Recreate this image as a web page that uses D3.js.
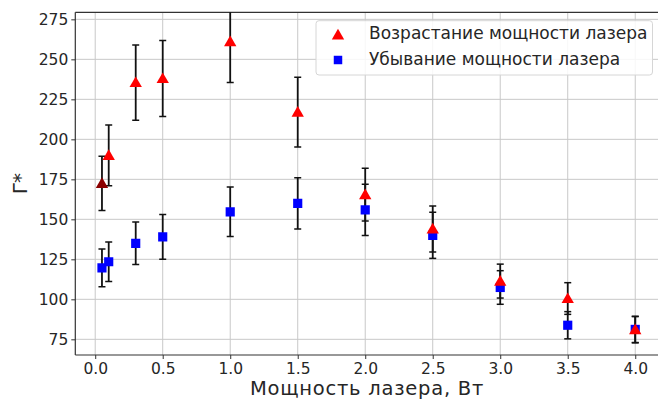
<!DOCTYPE html>
<html><head><meta charset="utf-8">
<script src="https://cdn.jsdelivr.net/npm/d3@7"></script>
<style>body{margin:0;background:#fff;} svg{display:block;font-family:"DejaVu Sans",sans-serif;}</style>
</head><body>
<svg id="c" width="658" height="400"></svg>
<script>
const powers = [0.05, 0.1, 0.3, 0.5, 1.0, 1.5, 2.0, 2.5, 3.0, 3.5, 4.0];
const incValues = [172.5, 190, 235.5, 238, 261, 217, 165.4, 144, 111.4, 100.5, 81];
const incErrors = [17, 19, 23.5, 23.8, 25.5, 21.8, 16.5, 14.4, 10.6, 9.9, 8.2];
const decValues = [119.7, 123.5, 135, 139, 154.7, 160, 155.9, 140, 107.4, 83.8, 81.2];
const decErrors = [11.8, 12.4, 13.3, 14, 15.5, 16, 16, 14.4, 10.5, 8.5, 8.2];
const xTicks = [0.0, 0.5, 1.0, 1.5, 2.0, 2.5, 3.0, 3.5, 4.0];
const yTicks = [75, 100, 125, 150, 175, 200, 225, 250, 275];
const legendLabels = ["Возрастание мощности лазера", "Убывание мощности лазера"];
const xLabel = "Мощность лазера, Вт";
const yLabel = "Γ*";

const svg = d3.select("#c");
const L = 75.3, R = 661.9, T = 12.3, B = 355;
const x = d3.scaleLinear().domain([-0.1475, 4.1975]).range([L, R]);
const y = d3.scaleLinear().domain([65.2, 279.4]).range([B, T]);

svg.append("defs").append("clipPath").attr("id", "clip")
  .append("rect").attr("x", L).attr("y", T).attr("width", R - L).attr("height", B - T);

// grid
const grid = svg.append("g");
grid.selectAll(".gx").data(xTicks).enter().append("line")
  .attr("x1", d => x(d)).attr("x2", d => x(d)).attr("y1", T).attr("y2", B)
  .attr("stroke", "#c8c8c8").attr("stroke-width", 1);
grid.selectAll(".gy").data(yTicks).enter().append("line")
  .attr("x1", L).attr("x2", R).attr("y1", d => y(d)).attr("y2", d => y(d))
  .attr("stroke", "#c8c8c8").attr("stroke-width", 1);

// axes
const xAxis = svg.append("g").attr("transform", `translate(0,${B})`)
  .call(d3.axisBottom(x).tickValues(xTicks).tickFormat(d3.format(".1f")).tickSize(4).tickSizeOuter(0));
const yAxis = svg.append("g").attr("transform", `translate(${L},0)`)
  .call(d3.axisLeft(y).tickValues(yTicks).tickSize(4).tickSizeOuter(0));
[xAxis, yAxis].forEach(a => {
  a.select(".domain").remove();
  a.selectAll("line").attr("stroke", "#333").attr("stroke-width", 1);
  a.selectAll("text").attr("fill", "#262626").style("font-size", "15.5px").style("font-family", "DejaVu Sans");
});
xAxis.selectAll("text").attr("dy", "0.95em").attr("y", 4);
yAxis.selectAll("text").attr("x", -7);

// spines
svg.append("line").attr("x1", L).attr("x2", L).attr("y1", T).attr("y2", B).attr("stroke", "#333").attr("stroke-width", 1.2);
svg.append("line").attr("x1", L).attr("x2", R).attr("y1", B).attr("y2", B).attr("stroke", "#333").attr("stroke-width", 1.2);
svg.append("line").attr("x1", L).attr("x2", R).attr("y1", T).attr("y2", T).attr("stroke", "#333").attr("stroke-width", 1.2);

const plot = svg.append("g").attr("clip-path", "url(#clip)");

function errbars(vals, errs) {
  const g = plot.append("g");
  powers.forEach((p, i) => {
    const cx = x(p), y1 = y(vals[i] + errs[i]), y2 = y(vals[i] - errs[i]);
    g.append("line").attr("x1", cx).attr("x2", cx).attr("y1", y1).attr("y2", y2).attr("stroke", "#111").attr("stroke-width", 1.8);
    [y1, y2].forEach(yy => g.append("line").attr("x1", cx - 3.5).attr("x2", cx + 3.5).attr("y1", yy).attr("y2", yy).attr("stroke", "#111").attr("stroke-width", 1.5));
  });
}
const tri = d3.symbol().type(d3.symbolTriangle).size(66);
const sq = d3.symbol().type(d3.symbolSquare).size(84);

errbars(decValues, decErrors);
errbars(incValues, incErrors);

plot.append("g").selectAll("path").data(decValues).enter().append("path")
  .attr("d", sq).attr("transform", (d, i) => `translate(${x(powers[i])},${y(d)})`).attr("fill", "#0000ff");
plot.append("g").selectAll("path").data(incValues).enter().append("path")
  .attr("d", tri).attr("transform", (d, i) => `translate(${x(powers[i])},${y(d) + 1})`)
  .attr("fill", (d, i) => i === 0 ? "#8b0000" : "#ff0000");

// labels
svg.append("text").attr("x", 367).attr("y", 395).attr("text-anchor", "middle")
  .style("font-size", "19.5px").style("letter-spacing", "0.75px").attr("fill", "#262626").text(xLabel);
svg.append("text").attr("transform", `translate(27,${(T + B) / 2}) rotate(-90)`).attr("text-anchor", "middle")
  .style("font-size", "20px").attr("fill", "#262626").text(yLabel);

// legend
const lg = svg.append("g");
lg.append("rect").attr("x", 316).attr("y", 20.7).attr("width", 336.5).attr("height", 54.3).attr("rx", 3)
  .attr("fill", "rgba(255,255,255,0.85)").attr("stroke", "#d6d6d6").attr("stroke-width", 1);
lg.append("path").attr("d", tri).attr("transform", "translate(338,36)").attr("fill", "#ff0000");
lg.append("path").attr("d", d3.symbol().type(d3.symbolSquare).size(72)).attr("transform", "translate(338,60)").attr("fill", "#0000ff");
legendLabels.forEach((t, i) => lg.append("text").attr("x", 369).attr("y", 33.5 + i * 25.5).attr("dy", "0.35em")
  .style("font-size", "17px").attr("fill", "#262626").text(t));
</script>
</body></html>
